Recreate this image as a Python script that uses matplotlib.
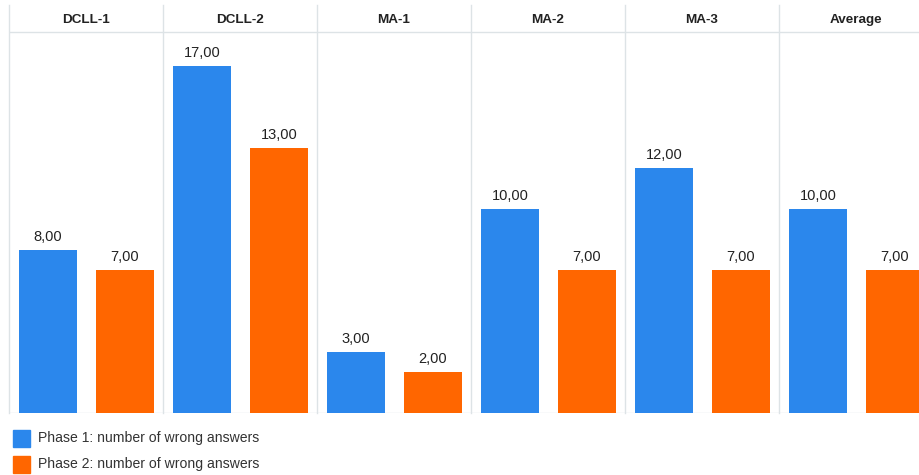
import numpy as np
import matplotlib.pyplot as plt

groups = ['DCLL-1', 'DCLL-2', 'MA-1', 'MA-2', 'MA-3', 'Average']
phase1 = [8, 17, 3, 10, 12, 10]
phase2 = [7, 13, 2, 7, 7, 7]
series_names = ['Phase 1: number of wrong answers', 'Phase 2: number of wrong answers']
colors = ['#2B87EC', '#FF6600']

W, H = 919, 475
fig = plt.figure(figsize=(W / 100, H / 100), dpi=100)
# one axes, each group panel is 1 unit wide; last panel is cut at the right edge
ax = fig.add_axes([9 / W, (H - 413) / H, (W - 9) / W, 408 / H])
ax.set_xlim(0, (W - 9) / 154)
ax.set_ylim(0, 20)
ax.axis('off')

line_col = '#dde3e6'
header_y = 18.67
ax.axhline(0, color=line_col, lw=1.0, zorder=1)
ax.axhline(header_y, color=line_col, lw=1.0, zorder=1)

bw = 58 / 154
x = np.arange(len(groups))
for i, vals in enumerate([phase1, phase2]):
    left = x + (10 / 154 if i == 0 else 87 / 154)
    ax.bar(left, vals, width=bw, align='edge', color=colors[i], zorder=2,
           label=series_names[i])
    for l, v in zip(left, vals):
        ax.text(l + bw / 2, v + 0.3, '%d,00' % v, ha='center', va='bottom',
                fontsize=10.5, color='#222222', family='Liberation Sans')

for i, g in enumerate(groups):
    ax.plot([i, i], [0, 20], color=line_col, lw=1.0, zorder=1, clip_on=False)
    ax.text(i + 0.5, (header_y + 20) / 2 - 0.05, g, ha='center', va='center',
            fontsize=9.7, fontweight='bold', color='#222222', family='Liberation Sans')

# legend
for i, name in enumerate(series_names):
    y = 438 + i * 26
    fig.patches.append(plt.Rectangle((13 / W, (H - y - 9) / H), 17 / W, 17 / H,
                                     transform=fig.transFigure, color=colors[i]))
    fig.text(38 / W, (H - y) / H, name, ha='left', va='center', fontsize=10.1,
             color='#333333', family='Liberation Sans')

fig.savefig('out.png', dpi=100)
